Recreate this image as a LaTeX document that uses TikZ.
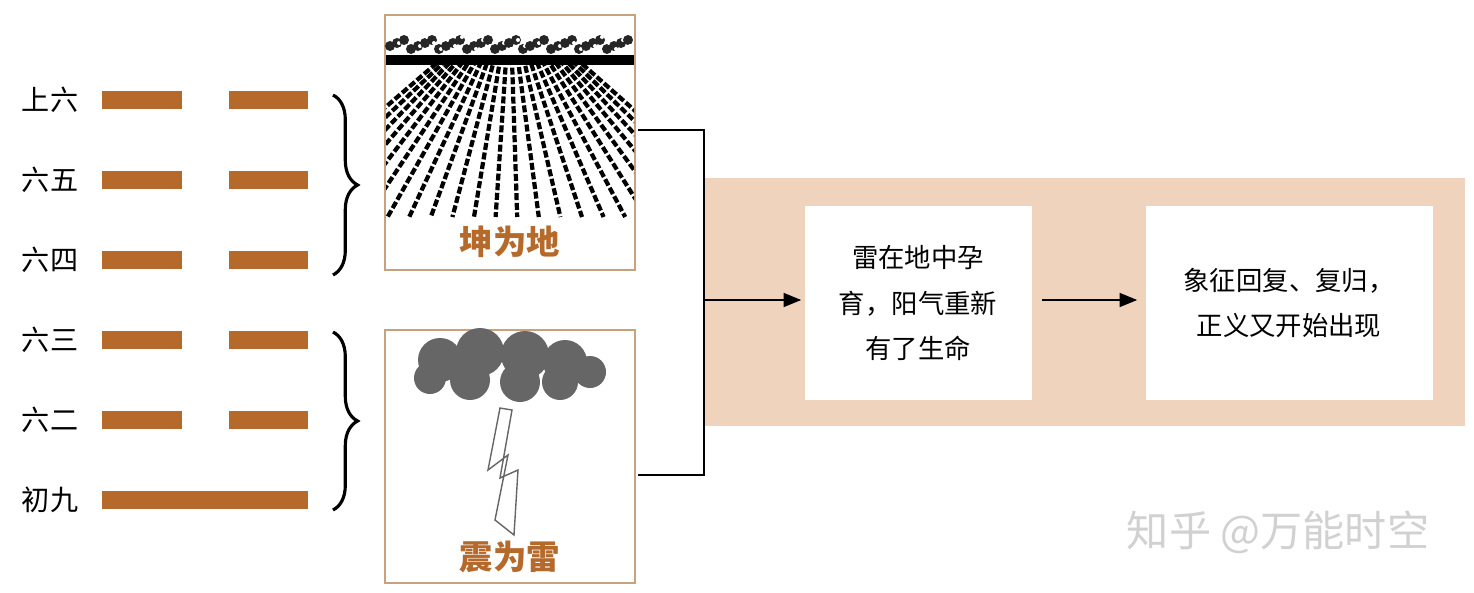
\documentclass[tikz,border=0pt]{standalone}
\usepackage{fontspec}
\setmainfont{Noto Sans CJK SC}
\usetikzlibrary{positioning,decorations.pathreplacing,arrows.meta}
\definecolor{bar}{HTML}{B5692B}
\definecolor{band}{HTML}{EFD3BC}
\definecolor{frame}{HTML}{C8A27C}
\tikzset{
  yao/.style={fill=bar,draw=none},
  lbl/.style={font=\fontsize{16}{18}\selectfont,anchor=center},
  pic/.style={draw=frame,line width=0.6pt,fill=white},
  piccap/.style={font=\fontsize{19}{22}\selectfont\bfseries,text=bar},
  txt/.style={fill=white,minimum width=227*0.02cm,minimum height=194*0.02cm,align=center,
              font=\fontsize{15}{26}\selectfont},
  arr/.style={-{Triangle[length=10pt,width=8pt]},line width=0.8pt}
}
\begin{document}
\begin{tikzpicture}[x=0.02cm,y=-0.02cm]
\useasboundingbox (0,0) rectangle (1474,592);
% six lines
\foreach \n/\t/\y in {1/上六/100,2/六五/180,3/六四/260,4/六三/340,5/六二/420}{
  \node[lbl] (l\n) at (50,\y) {\t};
  \fill[yao] (102,\y-9) rectangle (182,\y+9);
  \fill[yao] (229,\y-9) rectangle (308,\y+9);
}
\node[lbl] (l6) at (50,500) {初九};
\fill[yao] (102,491) rectangle (308,509);
% braces
\draw[line width=1.8pt,decorate,decoration={brace,amplitude=14pt}] (333,95) -- (333,275);
\draw[line width=1.8pt,decorate,decoration={brace,amplitude=14pt}] (333,332) -- (333,510);
% earth picture
\draw[pic] (385,15) rectangle (635,270);
\begin{scope}
  \clip (386,62) rectangle (634,217);
  \foreach \x in {300,318,...,720}
    \draw[line width=2.4pt,dash pattern=on 4pt off 1.5pt] (510,0) -- ({510+(\x-510)*1.2},217);
\end{scope}
\fill (386,55) rectangle (634,65);
\foreach \x in {390,397,...,632}{
  \fill[black!85] (\x,{40+mod(\x,4)*3}) circle (5);
  \fill[white] (\x+2,{37+mod(\x,5)*3}) circle (2);
}
\node[piccap] (kun) at (510,242) {坤为地};
% thunder picture
\draw[pic] (385,330) rectangle (635,583);
\foreach \x/\y/\r in {440/360/22,480/352/24,525/355/24,565/362/22,590/372/16,430/378/16,470/380/20,520/382/20,560/382/18}
  \fill[black!60] (\x,\y) circle (\r);
\draw[black!60,fill=white,line width=0.8pt] (500,408) -- (488,470) -- (508,455) -- (495,520) -- (514,535) -- (518,470) -- (500,478) -- (512,410) -- cycle;
\node[piccap] (zhen) at (510,557) {震为雷};
% band and boxes
\fill[band] (705,178) rectangle (1465,426);
\node[txt] (mid) at (918,303) {雷在地中孕\\育，阳气重新\\有了生命};
\node[txt,minimum width=287*0.02cm] (res) at (1289,303) {象征回复、复归，\\正义又开始出现};
% connectors
\coordinate (k) at (638,130);
\coordinate (z) at (638,475);
\coordinate (j) at (704,300);
\draw[line width=0.8pt] (k) -| (704,475) -- (z);
\draw[arr] (j) -- ([xshift=-3*0.02cm]j -| mid.west);
\draw[arr] ([xshift=10*0.02cm]j -| mid.east) -- ([xshift=-8*0.02cm]j -| res.west);
% watermark
\node[text=black!18,font=\fontsize{24}{26}\selectfont] (wm) at (1278,532) {知乎 @万能时空};
\end{tikzpicture}
\end{document}
